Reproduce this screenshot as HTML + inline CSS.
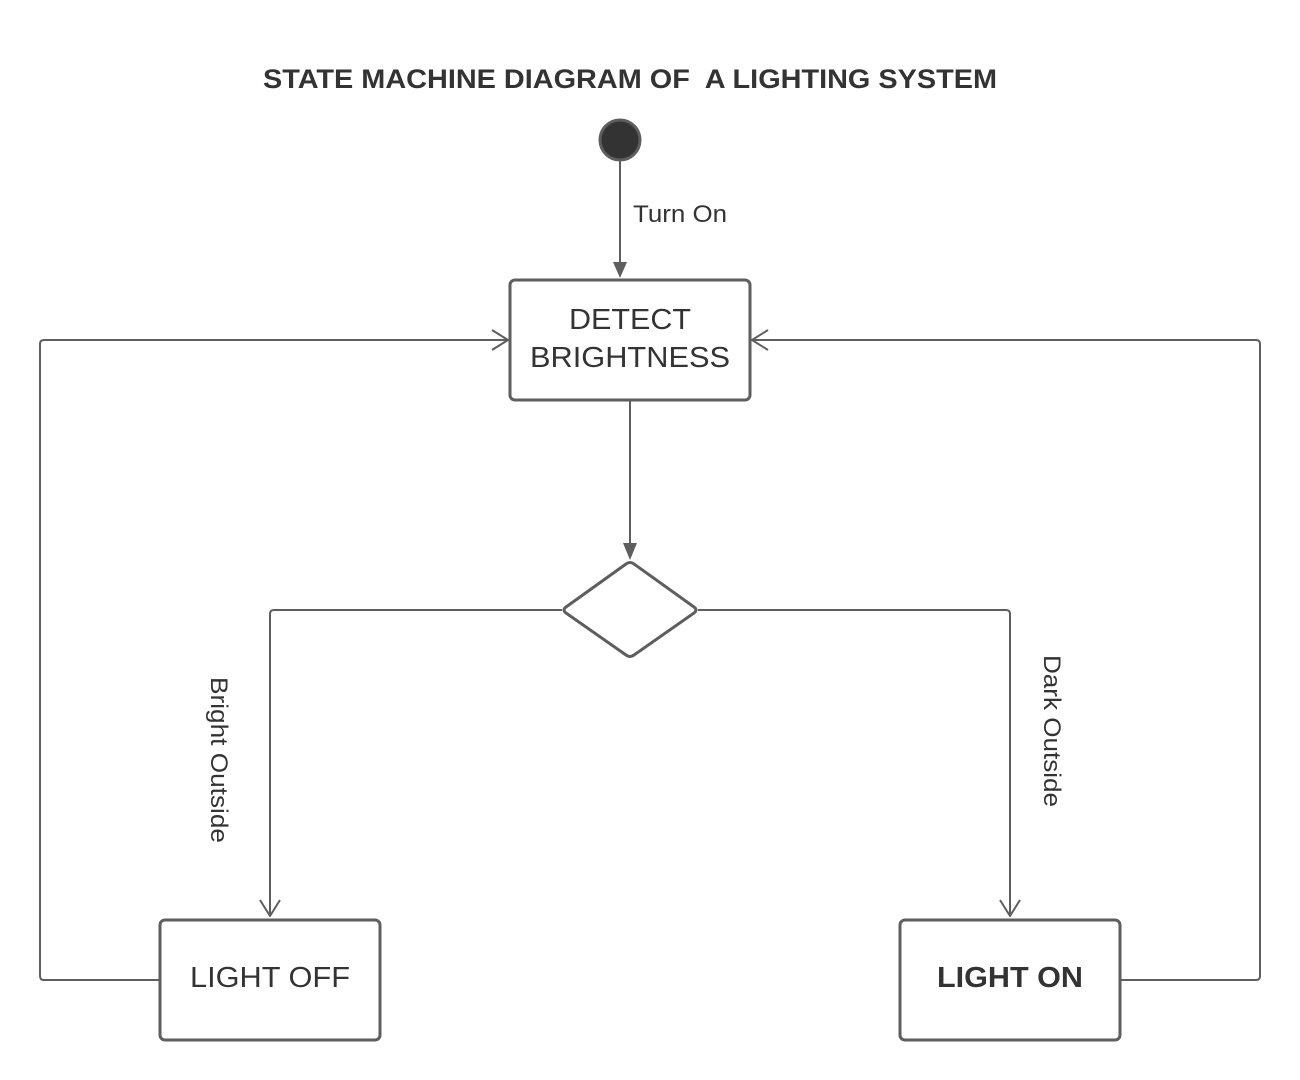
<!DOCTYPE html>
<html><head><meta charset="utf-8"><style>
html,body{margin:0;padding:0;background:#fff;}
svg{display:block;}
text{font-family:"Liberation Sans",Arial,sans-serif;fill:#333;}
</style></head><body>
<svg width="1300" height="1080" viewBox="0 0 1300 1080" xmlns="http://www.w3.org/2000/svg">
<text x="263" y="88" font-size="27" font-weight="bold" textLength="734" lengthAdjust="spacingAndGlyphs">STATE MACHINE DIAGRAM OF&#160; A LIGHTING SYSTEM</text>
<circle cx="620" cy="140" r="20" fill="#333" stroke="#5e5e5e" stroke-width="3"/>
<g stroke="#5e5e5e" stroke-width="2" fill="none" stroke-linejoin="round">
<line x1="620" y1="160" x2="620" y2="264"/>
<line x1="630" y1="400" x2="630" y2="545"/>
<path d="M562 610 H274 Q270 610 270 614 V916"/>
<path d="M698 610 H1006 Q1010 610 1010 614 V916"/>
<path d="M160 980 H44 Q40 980 40 976 V344 Q40 340 44 340 H508"/>
<path d="M1120 980 H1256 Q1260 980 1260 976 V344 Q1260 340 1256 340 H752"/>
<path d="M260 900 L270 916 L280 900"/>
<path d="M1000 900 L1010 916 L1020 900"/>
<path d="M492 330 L508 340 L492 350"/>
<path d="M768 330 L752 340 L768 350"/>
</g>
<path d="M613 262 L627 262 L620 278 Z" fill="#5e5e5e"/>
<path d="M623 543 L637 543 L630 560 Z" fill="#5e5e5e"/>
<g stroke="#5e5e5e" stroke-width="3" fill="#fff">
<rect x="510" y="280" width="240" height="120" rx="5"/>
<rect x="160" y="920" width="220" height="120" rx="5"/>
<rect x="900" y="920" width="220" height="120" rx="5"/>
<path d="M626 564 Q630 561 634 564 L694 607 Q698 610 694 613 L634 655 Q630 658 626 655 L566 613 Q562 610 566 607 Z" stroke-linejoin="round"/>
</g>
<text x="633" y="222" font-size="24" textLength="94" lengthAdjust="spacingAndGlyphs">Turn On</text>
<text x="569" y="329" font-size="29" textLength="122" lengthAdjust="spacingAndGlyphs">DETECT</text>
<text x="530" y="367" font-size="29" textLength="200" lengthAdjust="spacingAndGlyphs">BRIGHTNESS</text>
<text x="190" y="987" font-size="29" textLength="160" lengthAdjust="spacingAndGlyphs">LIGHT OFF</text>
<text x="937" y="987" font-size="29" font-weight="bold" textLength="146" lengthAdjust="spacingAndGlyphs">LIGHT ON</text>
<text transform="translate(211,677) rotate(90)" font-size="24" textLength="166" lengthAdjust="spacingAndGlyphs">Bright Outside</text>
<text transform="translate(1044,655) rotate(90)" font-size="24" textLength="152" lengthAdjust="spacingAndGlyphs">Dark Outside</text>
</svg>
</body></html>
